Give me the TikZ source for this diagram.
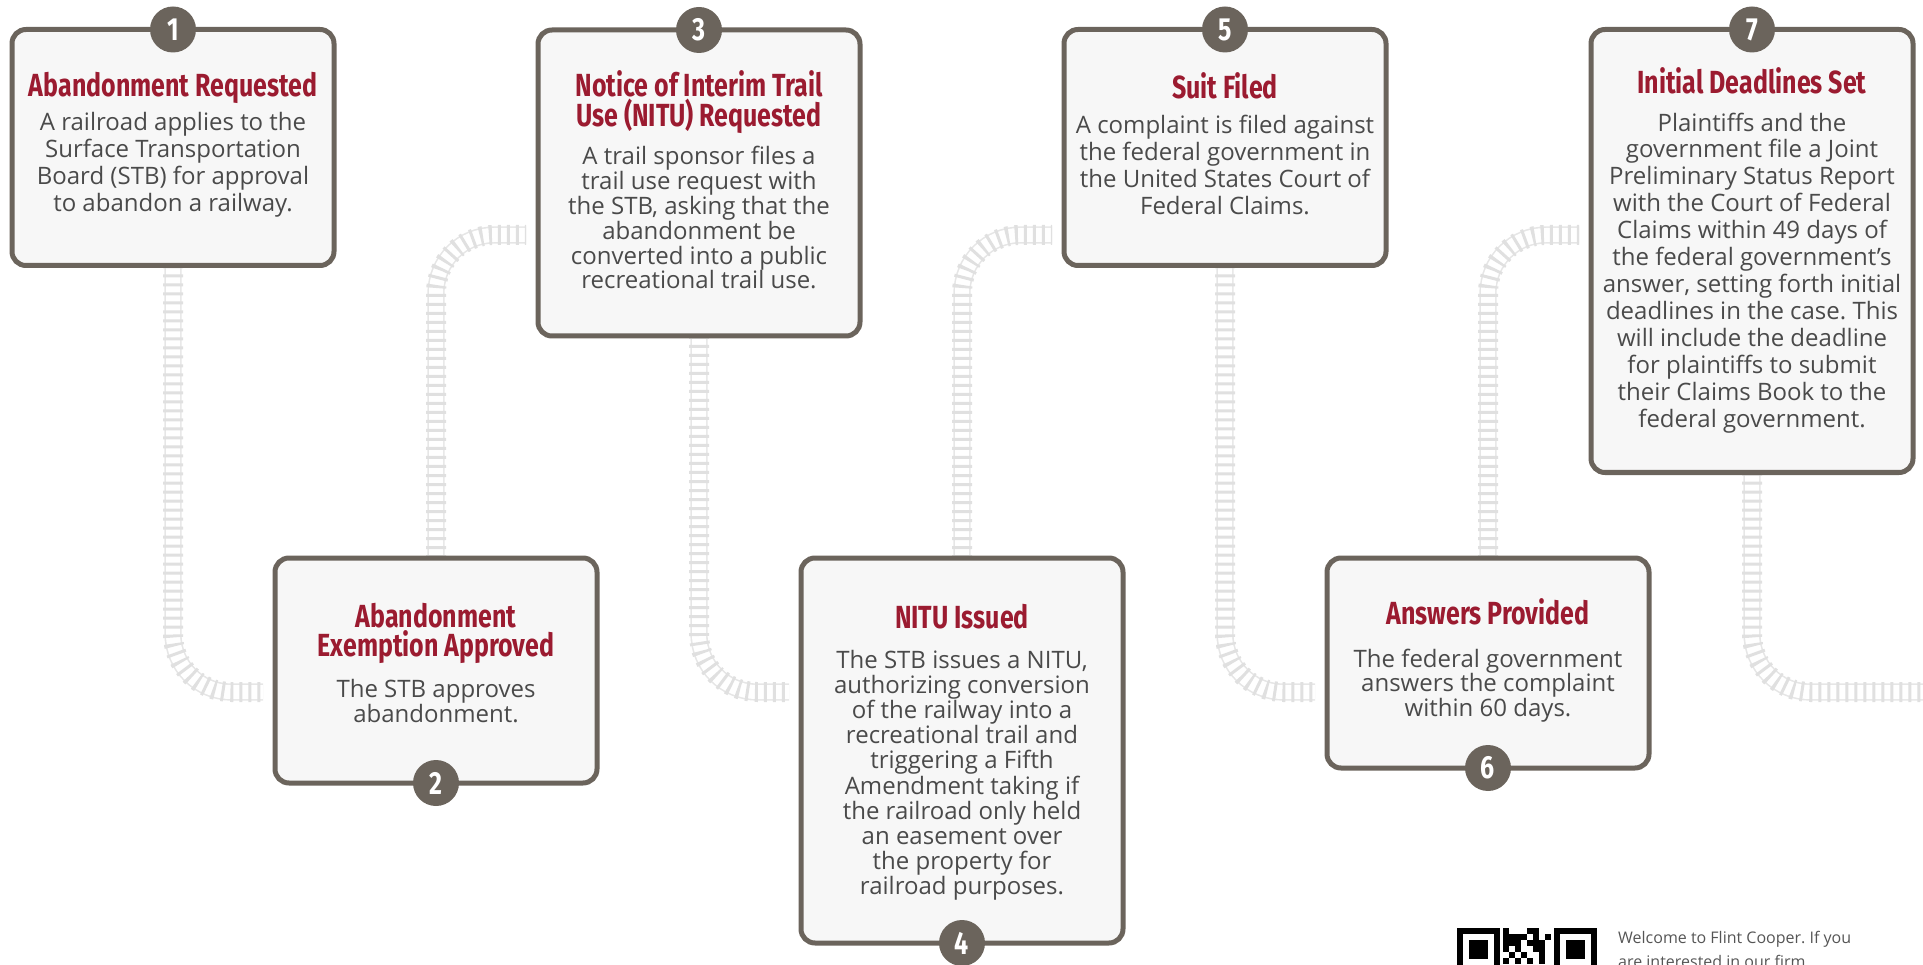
\documentclass[tikz,border=0pt]{standalone}
\usepackage{fontspec}
\setmainfont{Open Sans}
\newfontfamily\titlefont[FakeStretch=0.78]{Fira Sans}
\usetikzlibrary{calc}
\pgfdeclarelayer{background}
\pgfsetlayers{background,main}
\definecolor{titlered}{HTML}{9B1B30}
\definecolor{bordercol}{HTML}{6B645C}
\definecolor{boxfill}{HTML}{F7F7F7}
\definecolor{bodytext}{HTML}{4A4A4A}
\definecolor{tiecol}{HTML}{E0E0E0}
\definecolor{railcol}{HTML}{E6E6E6}
\definecolor{foottext}{HTML}{555555}
\newcommand\railtrack[1]{\draw[rails] #1; \draw[ties] #1;}
\frenchspacing
\begin{document}
\begin{tikzpicture}[x=1pt,y=-1pt,
  box/.style={draw=bordercol, line width=5pt, fill=boxfill, rounded corners=14pt,
    minimum width=322pt, inner sep=0pt, outer sep=0pt},
  num/.style={circle, fill=bordercol, minimum size=46pt, inner sep=0pt, text=white,
    font=\titlefont\bfseries\fontsize{32}{32}\selectfont},
  ttl/.style={anchor=base, align=center, text=titlered, inner sep=0pt,
    font=\titlefont\bfseries\fontsize{32}{29.5}\selectfont},
  body/.style={anchor=base, align=center, text=bodytext, inner sep=0pt,
    font=\fontsize{24}{#1}\selectfont},
  rails/.style={draw=railcol, line width=1.6pt, double=white, double distance=14pt,
    rounded corners=58pt},
  ties/.style={draw=tiecol, line width=20pt, dash pattern=on 3pt off 6pt,
    rounded corners=58pt},
]
\useasboundingbox (0,0) rectangle (1923,965);

% boxes
\node[box, minimum height=236pt] (b1) at (173,147.5) {};
\node[box, minimum height=225pt] (b2) at (436,670.5) {};
\node[box, minimum height=306pt] (b3) at (699,183) {};
\node[box, minimum height=385pt] (b4) at (962,750.5) {};
\node[box, minimum height=236pt] (b5) at (1225,147.5) {};
\node[box, minimum height=210pt] (b6) at (1488,663) {};
\node[box, minimum height=443pt] (b7) at (1752,251) {};

% numbers
\node[num] (n1) at (b1.north) {1};
\node[num] (n2) at (b2.south) {2};
\node[num] (n3) at (b3.north) {3};
\node[num] (n4) at (b4.south) {4};
\node[num] (n5) at (b5.north) {5};
\node[num] (n6) at (b6.south) {6};
\node[num] (n7) at (b7.north) {7};

% titles (anchor = baseline of last line)
\node[ttl] (t1) at (173,97) {Abandonment Requested};
\node[ttl] (t2) at (436,656.5) {Abandonment\\Exemption Approved};
\node[ttl] (t3) at (699,126.5) {Notice of Interim Trail\\Use (NITU) Requested};
\node[ttl] (t4) at (962,628) {NITU Issued};
\node[ttl] (t5) at (1225,99) {Suit Filed};
\node[ttl] (t6) at (1488,624) {Answers Provided};
\node[ttl] (t7) at (1752,94) {Initial Deadlines Set};

% bodies (anchor = baseline of last line)
\node[body=26.8] (d1) at (173,211.4) {A railroad applies to the\\Surface Transportation\\Board (STB) for approval\\to abandon a railway.};
\node[body=25] (d2) at (436,722) {The STB approves\\abandonment.};
\node[body=24.8] (d3) at (699,289) {A trail sponsor files a\\trail use request with\\the STB, asking that the\\abandonment be\\converted into a public\\recreational trail use.};
\node[body=25.2] (d4) at (962,894.8) {The STB issues a NITU,\\authorizing conversion\\of the railway into a\\recreational trail and\\triggering a Fifth\\Amendment taking if\\the railroad only held\\an easement over\\the property for\\railroad purposes.};
\node[body=27] (d5) at (1225,215) {A complaint is filed against\\the federal government in\\the United States Court of\\Federal Claims.};
\node[body=24.5] (d6) at (1488,716) {The federal government\\answers the complaint\\within 60 days.};
\node[body=27] (d7) at (1752,428) {Plaintiffs and the\\government file a Joint\\Preliminary Status Report\\with the Court of Federal\\Claims within 49 days of\\the federal government’s\\answer, setting forth initial\\deadlines in the case. This\\will include the deadline\\for plaintiffs to submit\\their Claims Book to the\\federal government.};

% tracks
\coordinate (trackend) at (1935,692);
\begin{pgfonlayer}{background}
\railtrack{(b1.south) |- ($(b2.west)+(-12,21.5)$)}
\railtrack{(b2.north) |- ($(b3.west)+(-12,52)$)}
\railtrack{(b3.south) |- ($(b4.west)+(-12,-58.5)$)}
\railtrack{(b4.north) |- ($(b5.west)+(-12,87.5)$)}
\railtrack{(b5.south) |- ($(b6.west)+(-12,29)$)}
\railtrack{(b6.north) |- ($(b7.west)+(-12,-16)$)}
\railtrack{(b7.south) |- (trackend)}
\end{pgfonlayer}

% QR code (partly visible)
\fill[black] (1457,928) rectangle (1500,971);
\fill[white] (1463,934) rectangle (1494,965);
\fill[black] (1469,940) rectangle (1488,959);
\fill[black] (1554,928) rectangle (1597,971);
\fill[white] (1560,934) rectangle (1591,965);
\fill[black] (1566,940) rectangle (1585,959);
\foreach \r/\c in {0/0,0/4,0/5,
  1/0,1/1,1/2,1/3,1/5,1/7,
  2/0,2/1,2/2,2/4,2/5,2/6,
  3/0,3/2,3/5,3/6,
  4/1,4/3,4/6,
  5/0,5/2,5/4,5/6}
  \fill[black] ({1503+6*\c},{928+6*\r}) rectangle ++(6,6);

% footer text
\node[anchor=base west, align=left, inner sep=0pt, text=foottext,
  font=\fontsize{16}{24}\selectfont] (foot) at (1618,967)
  {Welcome to Flint Cooper. If you\\are interested in our firm};
\end{tikzpicture}
\end{document}
